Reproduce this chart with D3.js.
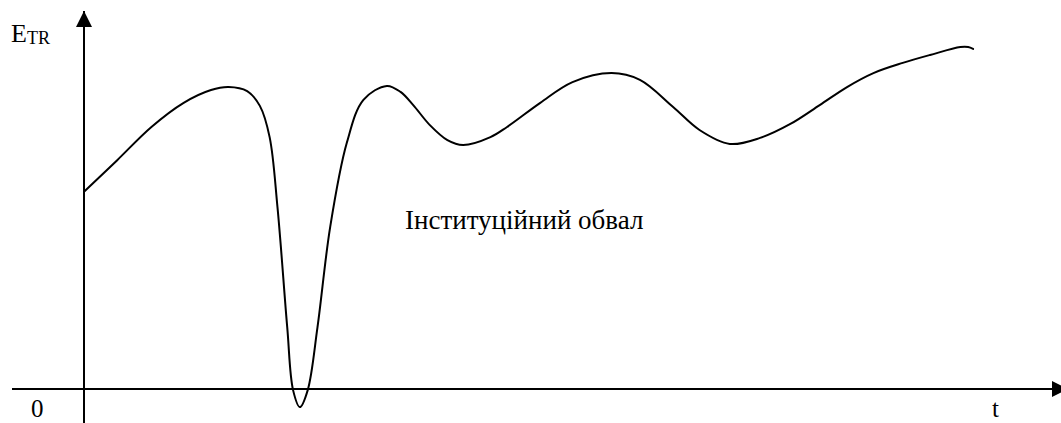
<!DOCTYPE html>
<html>
<head>
<meta charset="utf-8">
<script src="https://cdn.jsdelivr.net/npm/d3@7"></script>
<style>
  body { margin: 0; background: #fff; }
  svg text { font-family: 'Liberation Serif', 'DejaVu Serif', serif; }
</style>
</head>
<body>
<div class="dataGraph"></div>
<script>
'use strict';

// time (arbitrary units) and E_TR level (arbitrary units)
var tValues = [0, 3.4, 6.9, 10.2, 13.0, 14.8, 16.7, 18.0, 19.0, 19.8, 20.8, 21.4, 22.1, 22.9,
  23.9, 25.2, 26.9, 28.6, 31.0, 32.4, 33.7, 35.4, 37.2, 38.8, 41.6, 43.3, 46.7, 50.0, 54.0, 56.9, 60.3,
  63.0, 66.1, 69.2, 72.3, 75.3, 78.1, 80.8, 83.8, 86.6, 89.7, 90.5, 91.0];
var eValues = [52.3, 60.7, 69.5, 75.9, 79.3, 80.1, 79.0, 75.1, 66.8, 48.3, 16.4, -0.3, -4.8, -0.3,
  16.4, 43.0, 65.3, 76.7, 80.4, 78.8, 75.3, 70.0, 66.0, 64.7, 66.8, 69.5, 75.9, 81.4, 83.8, 82.0, 74.8,
  68.7, 65.0, 66.6, 70.3, 75.3, 80.1, 83.8, 86.5, 88.6, 90.7, 90.7, 90.2];

var yLabel = 'E', ySub = 'TR', xLabel = 't', originLabel = '0';
var note = 'Інституційний обвал';

var width = 1061, height = 423;
var origin = {x: 84, y: 389};

var x = d3.scaleLinear()
  .domain([0, 100])
  .range([origin.x, width]);

var y = d3.scaleLinear()
  .domain([0, 100])
  .range([origin.y, 12]);

var svg = d3.select('.dataGraph').append('svg')
  .attr('width', width)
  .attr('height', height)
  .style('display', 'block');

var defs = svg.append('defs');
defs.append('marker')
  .attr('id', 'arrow')
  .attr('viewBox', '0 0 16 16')
  .attr('refX', 16)
  .attr('refY', 8)
  .attr('markerWidth', 16)
  .attr('markerHeight', 16)
  .attr('markerUnits', 'userSpaceOnUse')
  .attr('orient', 'auto')
  .append('path')
  .attr('d', 'M0,0L16,8L0,16Z')
  .attr('fill', '#000');

// axes (plain lines with arrow heads)
svg.append('line')
  .attr('x1', 12).attr('y1', y(0))
  .attr('x2', 1068).attr('y2', y(0))
  .attr('stroke', '#000').attr('stroke-width', 2)
  .attr('marker-end', 'url(#arrow)');

svg.append('line')
  .attr('x1', x(0)).attr('y1', height)
  .attr('x2', x(0)).attr('y2', 11)
  .attr('stroke', '#000').attr('stroke-width', 2)
  .attr('marker-end', 'url(#arrow)');

var data = tValues.map(function(t, i) {
  return {t: t, e: eValues[i]};
});

var line = d3.line()
  .x(function(d) { return x(d.t); })
  .y(function(d) { return y(d.e); })
  .curve(d3.curveCatmullRom.alpha(0.5));

svg.append('path')
  .datum(data)
  .attr('d', line)
  .attr('fill', 'none')
  .attr('stroke', '#000')
  .attr('stroke-width', 2)
  .attr('stroke-linecap', 'round');

// labels
var yl = svg.append('text')
  .attr('x', 11)
  .attr('y', 42)
  .style('font-size', '26px');
yl.append('tspan').text(yLabel);
yl.append('tspan')
  .attr('dy', 2)
  .style('font-size', '18px')
  .text(ySub);

svg.append('text')
  .attr('x', 31)
  .attr('y', 417)
  .style('font-size', '25px')
  .text(originLabel);

svg.append('text')
  .attr('x', 992)
  .attr('y', 417)
  .style('font-size', '25px')
  .text(xLabel);

svg.append('text')
  .attr('x', 405)
  .attr('y', 229)
  .style('font-size', '27px')
  .text(note);
</script>
</body>
</html>
